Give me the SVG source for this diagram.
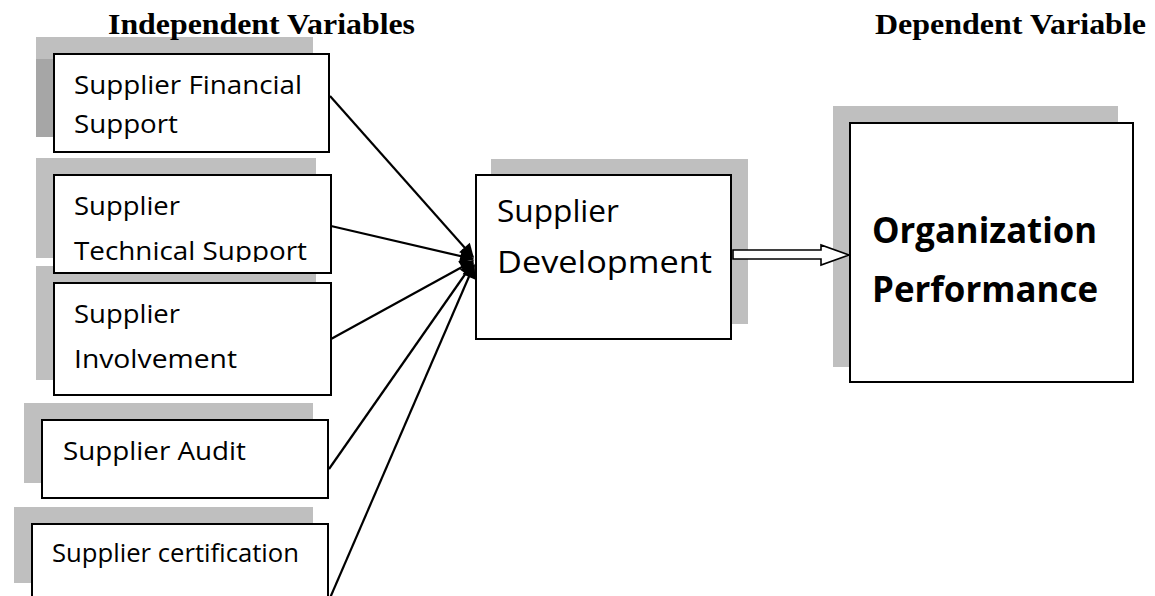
<svg xmlns="http://www.w3.org/2000/svg" width="1155" height="596" viewBox="0 0 1155 596">
  <style>
    .shadow { fill: #bfbfbf; }
    .shadow-dark { fill: #a6a6a6; }
    .box { fill: #ffffff; stroke: #000000; stroke-width: 2; }
    .label { font-family: "Open Sans", "Noto Sans", sans-serif; font-size: 25px; fill: #000000; }
    .mid { font-size: 31px; }
    .big { font-size: 36px; font-weight: bold; }
    .heading { font-family: "Liberation Serif", "Times New Roman", serif; font-size: 30px; font-weight: bold; fill: #000000; }
    .link { stroke: #000000; stroke-width: 2.2; fill: none; marker-end: url(#head); }
  </style>
  <defs>
    <marker id="head" viewBox="0 0 10 10" refX="9" refY="5" markerWidth="8" markerHeight="6.5" markerUnits="strokeWidth" orient="auto">
      <path d="M0,0 L10,5 L0,10 Z" fill="#000000"/>
    </marker>
    <clipPath id="clip-fin"><rect x="54" y="54" width="276" height="87"/></clipPath>
    <clipPath id="clip-tech"><rect x="54" y="175" width="278" height="87"/></clipPath>
  </defs>

  <rect width="1155" height="596" fill="#ffffff"/>

  <!-- shadows of the independent variable boxes -->
  <rect class="shadow" x="36" y="37" width="277" height="100"/>
  <rect class="shadow-dark" x="36" y="59" width="18" height="78"/>
  <rect class="shadow" x="36" y="158" width="280" height="100"/>
  <rect class="shadow" x="36" y="266" width="280" height="114"/>

  <!-- column headings -->
  <text class="heading" x="108" y="34" textLength="307" lengthAdjust="spacingAndGlyphs">Independent Variables</text>
  <text class="heading" x="875" y="34" textLength="271" lengthAdjust="spacingAndGlyphs">Dependent Variable</text>

  <g id="node-financial">
    <rect class="box" x="54" y="54" width="275" height="98"/>
    <g clip-path="url(#clip-fin)">
      <text class="label" x="74" y="94" textLength="228" lengthAdjust="spacingAndGlyphs">Supplier Financial</text>
      <text class="label" x="74" y="133" textLength="104" lengthAdjust="spacingAndGlyphs">Support</text>
    </g>
  </g>

  <g id="node-technical">
    <rect class="box" x="54" y="175" width="277" height="98"/>
    <g clip-path="url(#clip-tech)">
      <text class="label" x="74" y="215" textLength="106" lengthAdjust="spacingAndGlyphs">Supplier</text>
      <text class="label" x="74" y="260" textLength="233" lengthAdjust="spacingAndGlyphs">Technical Support</text>
    </g>
  </g>

  <g id="node-involvement">
    <rect class="box" x="54" y="283" width="277" height="112"/>
    <text class="label" x="74" y="323" textLength="106" lengthAdjust="spacingAndGlyphs">Supplier</text>
    <text class="label" x="74" y="368" textLength="163" lengthAdjust="spacingAndGlyphs">Involvement</text>
  </g>

  <g id="node-audit">
    <rect class="shadow" x="24" y="403" width="289" height="80"/>
    <rect class="box" x="42" y="420" width="286" height="78"/>
    <text class="label" x="63" y="460" textLength="183" lengthAdjust="spacingAndGlyphs">Supplier Audit</text>
  </g>

  <g id="node-certification">
    <rect class="shadow" x="14" y="507" width="299" height="76"/>
    <rect class="box" x="32" y="524" width="296" height="80"/>
    <text class="label" x="52" y="562" font-size="23" textLength="247" lengthAdjust="spacingAndGlyphs">Supplier certification</text>
  </g>

  <g id="node-development">
    <rect class="shadow" x="491" y="159" width="257" height="165"/>
    <rect class="box" x="476" y="175" width="255" height="164"/>
    <text class="label mid" x="497" y="222" textLength="122" lengthAdjust="spacingAndGlyphs">Supplier</text>
    <text class="label mid" x="497" y="273" textLength="215" lengthAdjust="spacingAndGlyphs">Development</text>
  </g>

  <g id="node-performance">
    <rect class="shadow" x="833" y="106" width="285" height="261"/>
    <rect class="box" x="850" y="123" width="283" height="259"/>
    <text class="label big" x="872" y="243" textLength="225" lengthAdjust="spacingAndGlyphs">Organization</text>
    <text class="label big" x="872" y="302" textLength="226" lengthAdjust="spacingAndGlyphs">Performance</text>
  </g>

  <g id="connectors">
    <line class="link" x1="330" y1="96" x2="473" y2="257"/>
    <line class="link" x1="331" y1="226" x2="473" y2="259"/>
    <line class="link" x1="331" y1="339" x2="473" y2="261"/>
    <line class="link" x1="329" y1="469" x2="473" y2="263"/>
    <line class="link" x1="330" y1="598" x2="474" y2="265"/>
    <!-- hollow block arrow to the dependent variable -->
    <path d="M733,250 L821,250 L821,245 L849,255 L821,265 L821,259 L733,259 Z" fill="#ffffff" stroke="#000000" stroke-width="1.6" stroke-linejoin="miter"/>
  </g>
</svg>
